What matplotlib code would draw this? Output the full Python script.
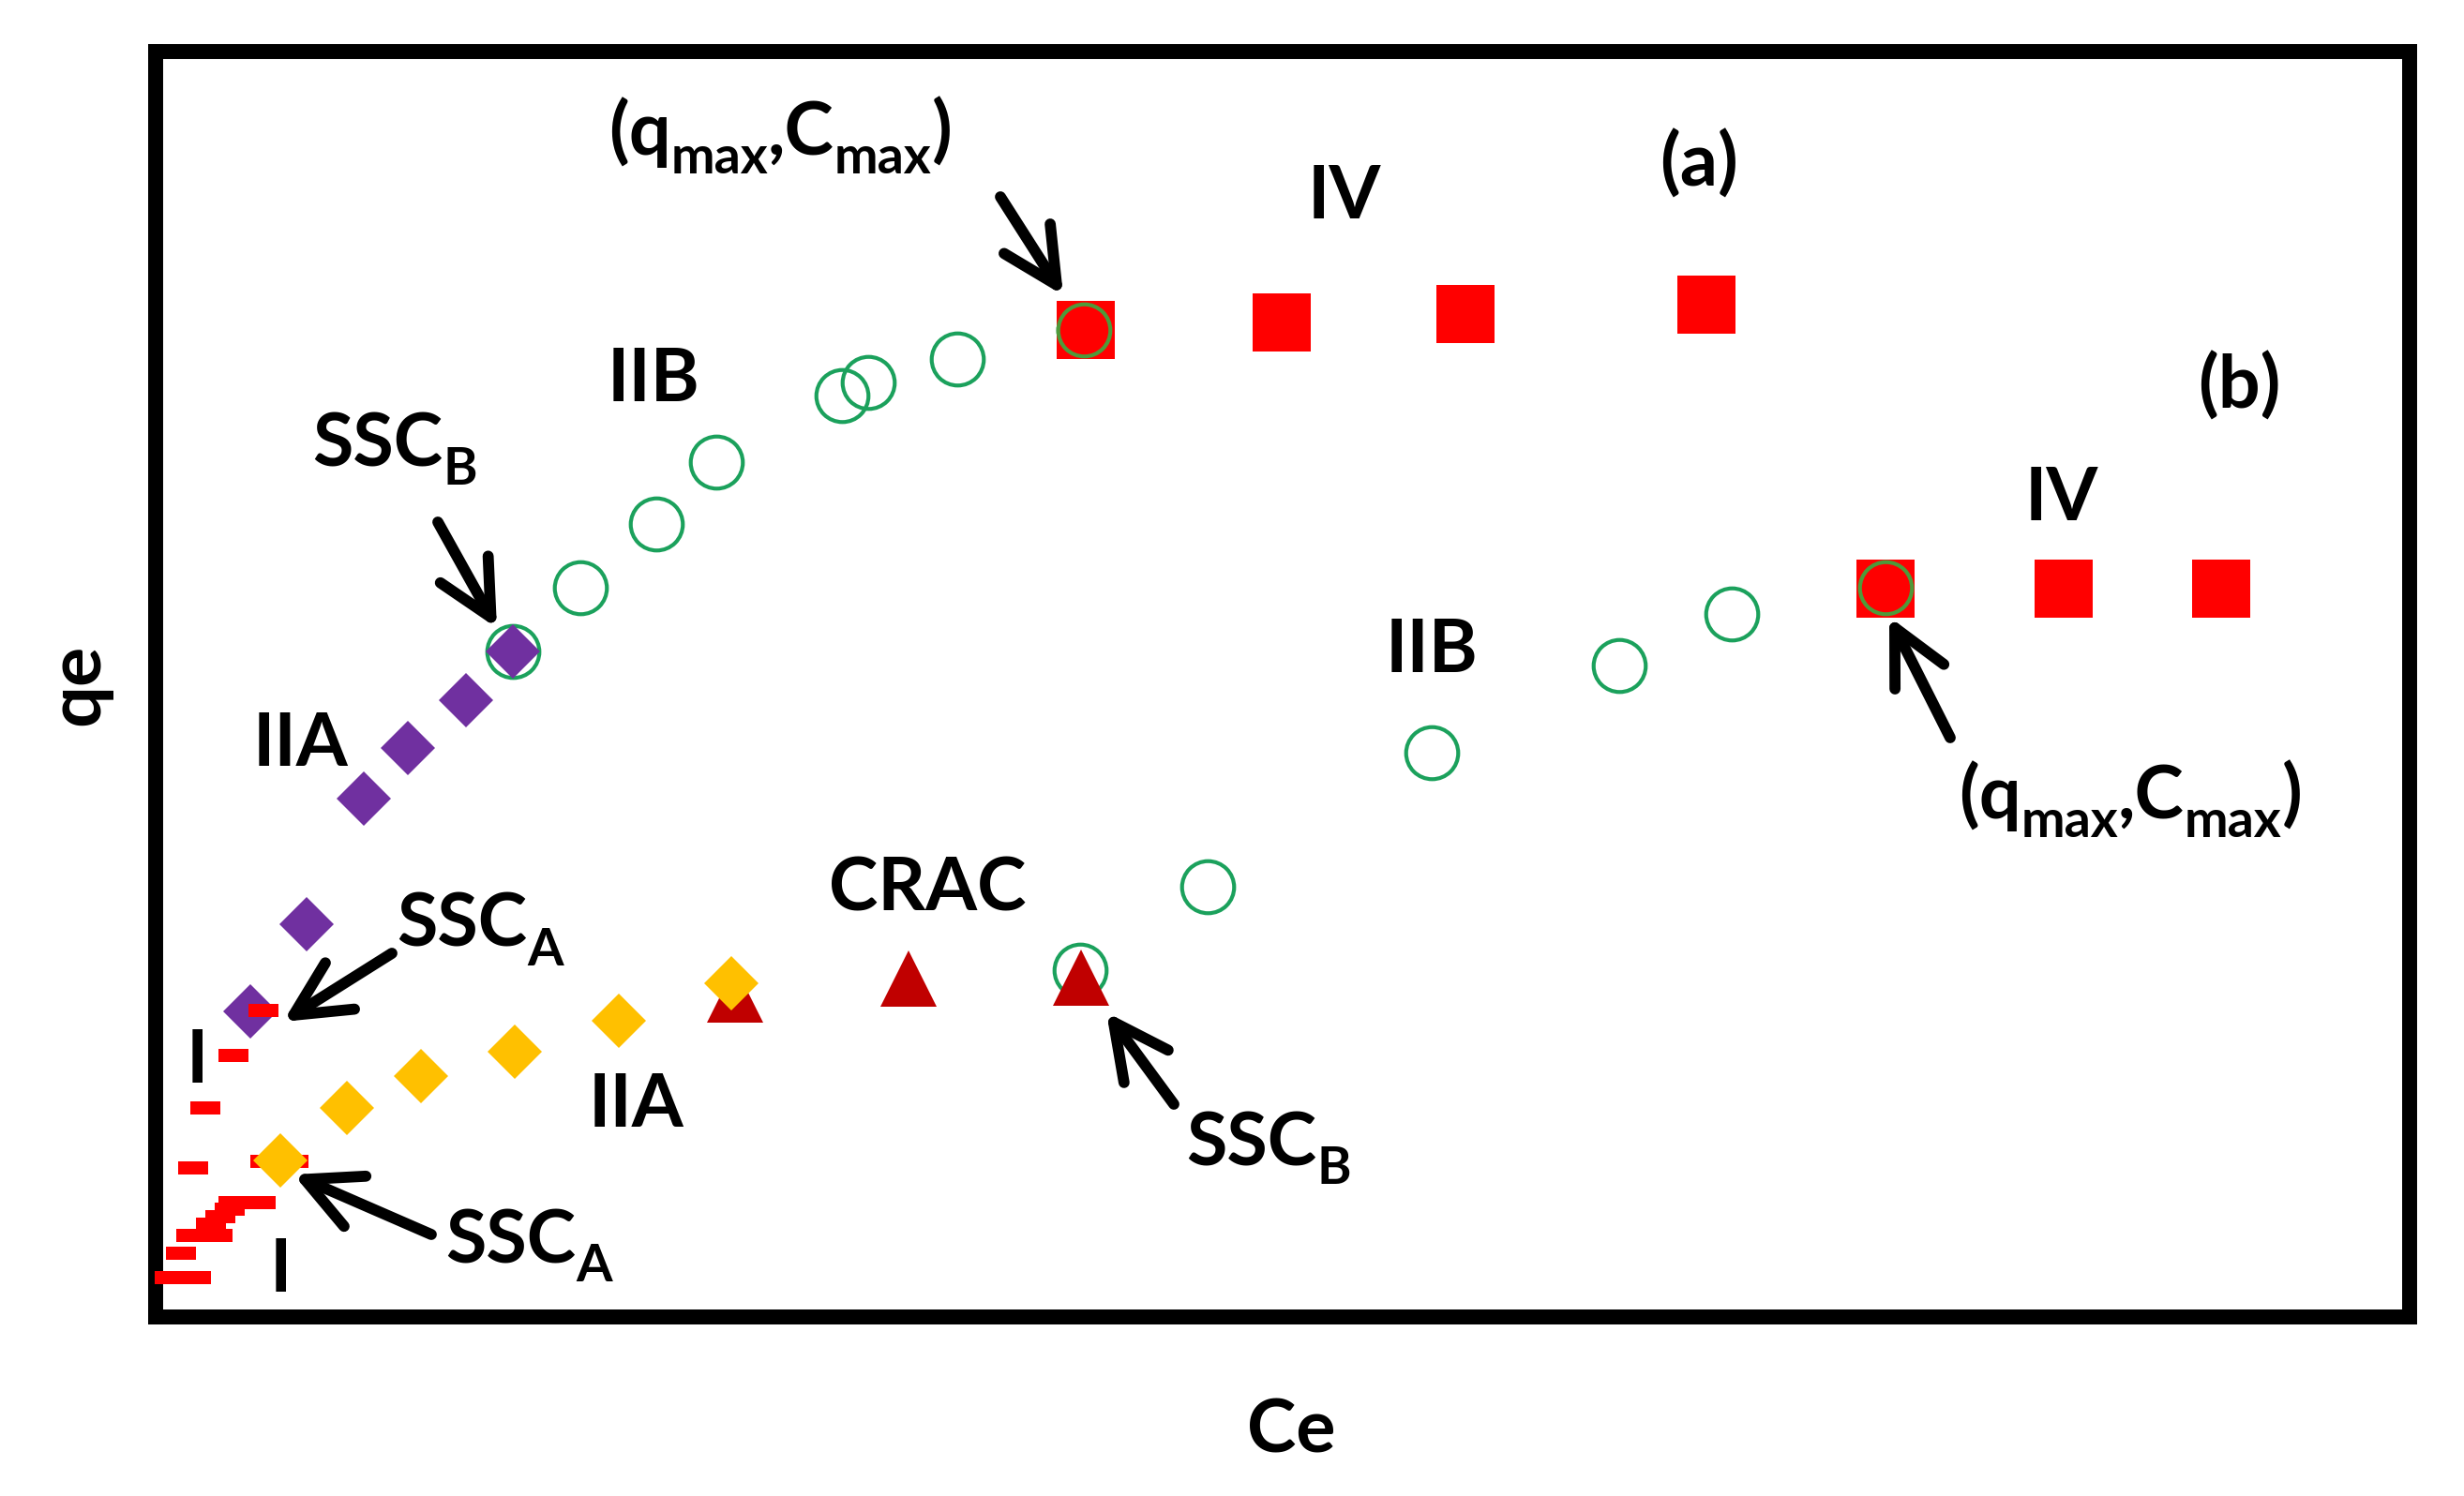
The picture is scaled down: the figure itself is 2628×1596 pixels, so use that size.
import numpy as np
import matplotlib
matplotlib.use("Agg")
import matplotlib.pyplot as plt

plt.rcParams['font.family'] = ['Lato', 'DejaVu Sans']
plt.rcParams['font.weight'] = 'bold'

# --- curve (a) ---
dash_a_ce = [115, 83, 53, 40, 27, 15]
dash_a_qe = [327, 279, 223, 159, 68, 42]
iia_a_ce = [101, 161, 222, 269, 331, 381]
iia_a_qe = [326, 419, 553, 607, 658, 710]
iib_a_ce = [381, 453, 534, 598, 732, 760, 855, 990]
iib_a_qe = [710, 778, 846, 912, 983, 997, 1022, 1053]
iv_a_ce = [992, 1201, 1397, 1654]
iv_a_qe = [1053, 1061, 1070, 1080]
max_a = (990, 1053)

# --- curve (b) ---
dash_b_ce = [43, 38, 66, 59, 69, 79, 83, 112, 117, 147]
dash_b_qe = [42, 87, 87, 99, 107, 115, 122, 122, 166, 166]
iia_b_ce = [133, 204, 283, 383, 494, 614]
iia_b_qe = [167, 223, 257, 283, 316, 356]
crac_ce = [618, 803, 987]
crac_qe = [344, 361, 362]
iib_b_ce = [986, 1122, 1361, 1561, 1681, 1845]
iib_b_qe = [370, 459, 602, 695, 750, 778]
iv_b_ce = [1845, 2035, 2203]
iv_b_qe = [777, 777, 777]
max_b = (1845, 778)

# labels: parts (text, is_subscript), centre x, baseline y
QMAX = [('(q', 0), ('max', 1), (',C', 0), ('max', 1), (')', 0)]
labels = [
    (QMAX, 666, 1240),
    ([('IV', 0)], 1268, 1172),
    ([('(a)', 0)], 1646, 1206),
    ([('IIB', 0)], 531, 977),
    ([('SSC', 0), ('B', 1)], 255, 908),
    ([('IIA', 0)], 154, 588),
    ([('SSC', 0), ('A', 1)], 346, 395),
    ([('I', 0)], 44, 250),
    ([('I', 0)], 133, 27),
    ([('SSC', 0), ('A', 1)], 398, 58),
    ([('IIA', 0)], 513, 203),
    ([('CRAC', 0)], 823, 433),
    ([('SSC', 0), ('B', 1)], 1187, 162),
    ([('IIB', 0)], 1361, 688),
    ([('(b)', 0)], 2222, 969),
    ([('IV', 0)], 2033, 850),
    (QMAX, 2106, 532),
]

# arrows: tail -> tip
arrows = [
    ((901, 1195), (968, 1090)),
    ((301, 848), (364, 735)),
    ((252, 388), (136, 315)),
    ((294, 88), (147, 152)),
    ((1086, 227), (1014, 325)),
    ((1914, 618), (1849, 747)),
]

W, H = 2628, 1596
fig = plt.figure(figsize=(W / 100, H / 100), dpi=100)
ax = fig.add_axes([166 / W, (H - 1405) / H, 2404 / W, 1350 / H])
ax.set_xlim(0, 2404)
ax.set_ylim(0, 1350)
ax.set_xticks([])
ax.set_yticks([])
for sp in ax.spines.values():
    sp.set_linewidth(11.5)
    sp.set_capstyle('projecting')

red = '#FF0000'
green = '#1BA15C'
purple = '#7030A0'
gold = '#FFC000'
darkred = '#C00000'
dash = [(-1, -0.41), (1, -0.41), (1, 0.41), (-1, 0.41)]

ax.plot(iib_a_ce, iib_a_qe, 'o', ms=40, mfc='none', mec=green, mew=3, zorder=3)
ax.plot(iia_a_ce, iia_a_qe, 'D', ms=30, color=purple, mew=0, zorder=4)
ax.plot(dash_a_ce, dash_a_qe, marker=dash, ls='none', ms=23, color=red, mew=0, zorder=5, clip_on=False)
ax.plot(iv_a_ce, iv_a_qe, 's', ms=44, color=red, mew=0, zorder=3)
ax.plot(*max_a, 'o', ms=40, mfc=red, mec='#4E9A3A', mew=3, zorder=6)

ax.plot(iib_b_ce, iib_b_qe, 'o', ms=40, mfc='none', mec=green, mew=3, zorder=3)
ax.plot(crac_ce, crac_qe, '^', ms=43, color=darkred, mew=0, zorder=4)
ax.plot(dash_b_ce, dash_b_qe, marker=dash, ls='none', ms=23, color=red, mew=0, zorder=4, clip_on=False)
ax.plot(iia_b_ce, iia_b_qe, 'D', ms=30, color=gold, mew=0, zorder=5)
ax.plot(iv_b_ce, iv_b_qe, 's', ms=44, color=red, mew=0, zorder=3)
ax.plot(*max_b, 'o', ms=40, mfc=red, mec='#4E9A3A', mew=3, zorder=6)

# text with subscripts built piece by piece (1 data unit == 1 pixel here)
renderer = fig.canvas.get_renderer()
for parts, xc, yb in labels:
    pieces = []
    for s, sub in parts:
        t = ax.text(0, 0, s, fontsize=40 if sub else 57, fontweight='bold',
                    ha='left', va='baseline', zorder=7)
        pieces.append((t, sub, t.get_window_extent(renderer).width))
    x = xc - sum(p[2] for p in pieces) / 2
    for t, sub, w in pieces:
        t.set_position((x, yb - 20 if sub else yb))
        x += w

for tail, tip in arrows:
    ax.annotate('', xy=tip, xytext=tail,
                arrowprops=dict(arrowstyle='->,head_length=4.2,head_width=2.1',
                                mutation_scale=10, lw=8.5, color='black',
                                shrinkA=0, shrinkB=0, capstyle='round', joinstyle='round'),
                zorder=8)

ax.set_xlabel('Ce', fontsize=57, fontweight='bold', va='center')
ax.xaxis.set_label_coords(0.504, -0.091)
ax.set_ylabel('qe', fontsize=57, fontweight='bold', va='center')
ax.yaxis.set_label_coords(-0.0345, 0.5)

fig.savefig('out.png', dpi=100, facecolor='white')
